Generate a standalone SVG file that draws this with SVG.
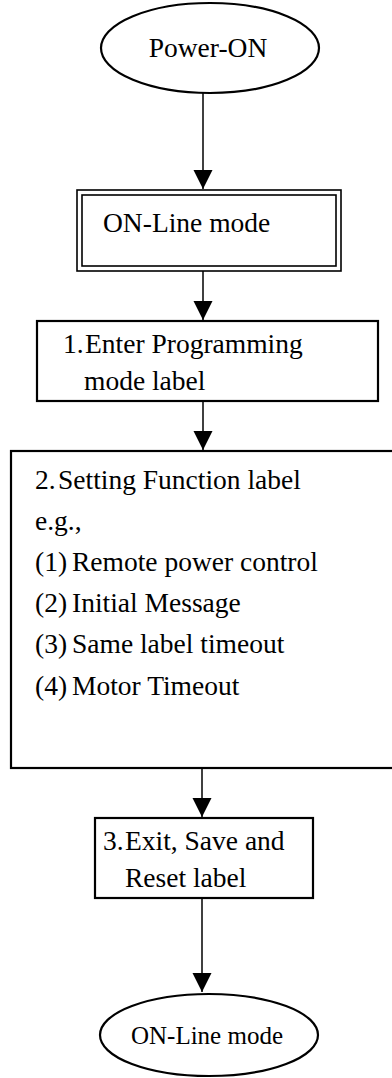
<svg xmlns="http://www.w3.org/2000/svg" width="392" height="1078" viewBox="0 0 392 1078">
  <style>
    .shape { fill: #ffffff; stroke: #000000; stroke-width: 2.2; }
    .thin { fill: none; stroke: #000000; stroke-width: 1.6; }
    .t { font-family: "Liberation Serif", "Times New Roman", serif; font-size: 27.5px; fill: #000000; }
    .ts { font-family: "Liberation Serif", "Times New Roman", serif; font-size: 25px; fill: #000000; }
    .edge { fill: none; stroke: #000000; stroke-width: 1.5; }
  </style>
  <defs>
    <marker id="arrow" markerUnits="userSpaceOnUse" markerWidth="20" markerHeight="20" refX="19" refY="9.5" orient="auto">
      <path d="M0,0 L19,9.5 L0,19 z" fill="#000000"/>
    </marker>
  </defs>
  <rect width="392" height="1078" fill="#ffffff"/>

  <g id="connectors">
    <line class="edge" x1="203" y1="93" x2="203" y2="189" marker-end="url(#arrow)"/>
    <line class="edge" x1="203" y1="271" x2="203" y2="320" marker-end="url(#arrow)"/>
    <line class="edge" x1="203" y1="401" x2="203" y2="450" marker-end="url(#arrow)"/>
    <line class="edge" x1="202" y1="768" x2="202" y2="817" marker-end="url(#arrow)"/>
    <line class="edge" x1="202" y1="898" x2="202" y2="992" marker-end="url(#arrow)"/>
  </g>

  <g id="power-on">
    <ellipse class="shape" cx="210" cy="48" rx="109" ry="45"/>
    <text class="t" x="208" y="57" text-anchor="middle">Power-ON</text>
  </g>

  <g id="online-mode">
    <rect class="thin" x="77" y="190" width="264" height="81"/>
    <rect class="thin" x="82" y="195" width="254" height="71"/>
    <text class="t" x="103" y="232">ON-Line mode</text>
  </g>

  <g id="step1">
    <rect class="shape" x="37" y="321" width="341" height="80"/>
    <text class="t" y="353"><tspan x="63">1.</tspan><tspan x="85">Enter Programming</tspan></text>
    <text class="t" x="84" y="390">mode label</text>
  </g>

  <g id="step2">
    <rect class="shape" x="11" y="451" width="383" height="317"/>
    <text class="t" y="489"><tspan x="35">2.</tspan><tspan x="58">Setting Function label</tspan></text>
    <text class="t" x="35" y="530">e.g.,</text>
    <text class="t" y="571"><tspan x="35">(1)</tspan><tspan x="72">Remote power control</tspan></text>
    <text class="t" y="612"><tspan x="35">(2)</tspan><tspan x="72">Initial Message</tspan></text>
    <text class="t" y="653"><tspan x="35">(3)</tspan><tspan x="72">Same label timeout</tspan></text>
    <text class="t" y="695"><tspan x="35">(4)</tspan><tspan x="72">Motor Timeout</tspan></text>
  </g>

  <g id="step3">
    <rect class="shape" x="95" y="818" width="218" height="80"/>
    <text class="t" y="850"><tspan x="103">3.</tspan><tspan x="125">Exit, Save and</tspan></text>
    <text class="t" x="125" y="887">Reset label</text>
  </g>

  <g id="online-end">
    <ellipse class="shape" cx="209" cy="1035" rx="109" ry="41"/>
    <text class="ts" x="207" y="1044" text-anchor="middle">ON-Line mode</text>
  </g>
</svg>
